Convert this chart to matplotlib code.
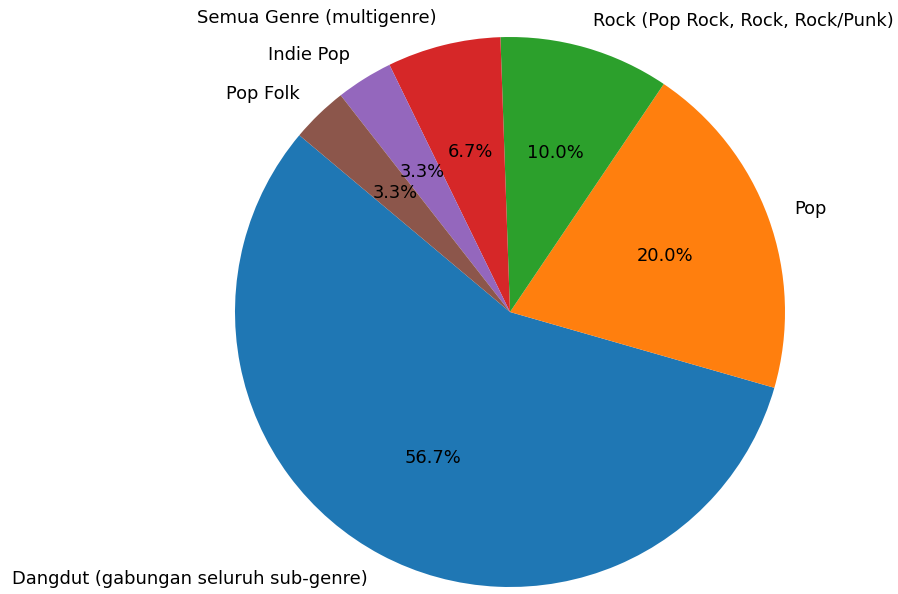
import matplotlib
matplotlib.use("Agg")
import matplotlib.pyplot as plt

genres = [
    "Dangdut (gabungan seluruh sub-genre)",
    "Pop",
    "Rock (Pop Rock, Rock, Rock/Punk)",
    "Semua Genre (multigenre)",
    "Indie Pop",
    "Pop Folk",
]
counts = [17, 6, 3, 2, 1, 1]

fig = plt.figure(figsize=(8.98, 5.94), dpi=100)
ax = fig.add_axes([0, 0, 1, 1])

ax.pie(counts, labels=genres, autopct="%1.1f%%", startangle=140,
       textprops={"fontsize": 12.9})

# place the pie: centre at (510, 312) px, radius 275 px
r = 275.0
ax.set_xlim(-510 / r, (898 - 510) / r)
ax.set_ylim(-(594 - 312) / r, 312 / r)
ax.set_aspect("equal", adjustable="datalim")

fig.savefig("out.png", dpi=100)
